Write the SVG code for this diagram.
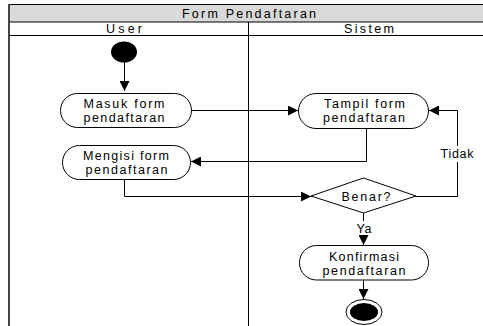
<svg xmlns="http://www.w3.org/2000/svg" width="483" height="326" viewBox="0 0 483 326">
<style>
text{font-family:"Liberation Sans",Arial,sans-serif;font-size:12.5px;fill:#000;text-anchor:middle}
.act{fill:#fff;stroke:#000;stroke-width:1}
.c{fill:none;stroke:#000;stroke-width:1}
</style>
<defs>
<marker id="ah" viewBox="0 0 10 10" refX="10" refY="5" markerWidth="10" markerHeight="10" markerUnits="userSpaceOnUse" orient="auto">
<path d="M0,0 L10,5 L0,10 Z" fill="#000"/>
</marker>
</defs>
<rect width="483" height="326" fill="#fff"/>
<g id="swimlane">
<rect x="9" y="4.5" width="490" height="17.5" fill="#d9d9d9" stroke="#000"/>
<line x1="9" y1="35.5" x2="490" y2="35.5" stroke="#000"/>
<line x1="248.5" y1="22" x2="248.5" y2="326" stroke="#000"/>
<line x1="9" y1="4" x2="9" y2="326" stroke="#444" stroke-width="2"/>
<text x="249" y="17.5" textLength="134" lengthAdjust="spacing">Form Pendaftaran</text>
<text x="124" y="33" textLength="36" lengthAdjust="spacing">User</text>
<text x="369" y="33" textLength="50" lengthAdjust="spacing">Sistem</text>
</g>
<g id="start"><ellipse cx="124" cy="52" rx="13" ry="10.5" fill="#000"/></g>
<g id="masuk"><rect class="act" x="60.5" y="93.5" width="131" height="34" rx="17"/><text x="124" y="108" textLength="81" lengthAdjust="spacing">Masuk form</text><text x="124" y="122" textLength="81" lengthAdjust="spacing">pendaftaran</text></g>
<g id="tampil"><rect class="act" x="298.5" y="93.5" width="130" height="35" rx="17.5"/><text x="364.5" y="108" textLength="81" lengthAdjust="spacing">Tampil form</text><text x="364" y="122" textLength="82" lengthAdjust="spacing">pendaftaran</text></g>
<g id="mengisi"><rect class="act" x="62.5" y="145.5" width="128" height="34" rx="17"/><text x="126" y="160" textLength="86" lengthAdjust="spacing">Mengisi form</text><text x="126.5" y="174" textLength="82" lengthAdjust="spacing">pendaftaran</text></g>
<g id="benar"><polygon class="act" points="311,196 363.5,178 416,196 363.5,213"/><text x="366" y="201" textLength="49" lengthAdjust="spacing">Benar?</text></g>
<g id="konfirmasi"><rect class="act" x="299.5" y="245.5" width="129" height="34.5" rx="17"/><text x="364" y="261" textLength="70" lengthAdjust="spacing">Konfirmasi</text><text x="364" y="275" textLength="83" lengthAdjust="spacing">pendaftaran</text></g>
<g id="end"><ellipse cx="364" cy="312" rx="18" ry="12.5" fill="#fff" stroke="#000"/><ellipse cx="364" cy="312" rx="14" ry="9" fill="#000"/></g>
<g id="connectors">
<path class="c" d="M124.5,62 V91" marker-end="url(#ah)"/>
<path class="c" d="M191.5,110.5 H298" marker-end="url(#ah)"/>
<path class="c" d="M366.5,128.5 V161.5 H191" marker-end="url(#ah)"/>
<path class="c" d="M124.5,180 V196.5 H311" marker-end="url(#ah)"/>
<path class="c" d="M416,196.5 H457.5 V110.5 H429" marker-end="url(#ah)"/>
<path class="c" d="M363.5,213 V245" marker-end="url(#ah)"/>
<path class="c" d="M363.5,280 V299" marker-end="url(#ah)"/>
<rect x="439" y="146" width="36" height="16" fill="#fff"/>
<text x="457" y="158" textLength="33" lengthAdjust="spacing">Tidak</text>
<rect x="355" y="221" width="18" height="14" fill="#fff"/>
<text x="364" y="233" textLength="15" lengthAdjust="spacing">Ya</text>
</g>
</svg>
